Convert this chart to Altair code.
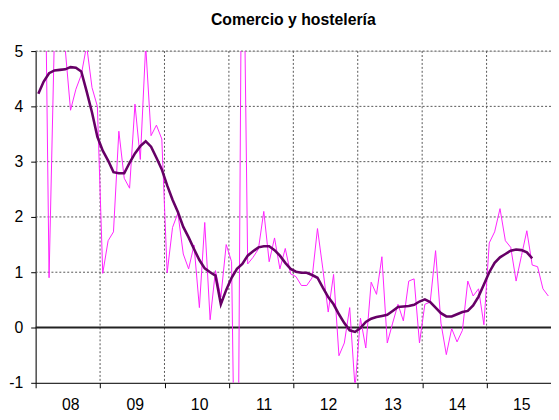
import json
import altair as alt
import pandas as pd

title_text = "Comercio y hostelería"
years = ["08", "09", "10", "11", "12", "13", "14", "15"]
y_ticks = [-1, 0, 1, 2, 3, 4, 5]

# monthly series Jan 2008 .. Dec 2015 (values beyond the axis range are clipped)
thin = [7.5, 9.0, 0.90, 5.3, 5.6, 5.05, 3.93, 4.31, 4.57, 5.1, 4.34, 4.00,
        0.98, 1.57, 1.73, 3.55, 2.70, 2.52, 4.04, 3.04, 5.1, 3.47, 3.66, 3.41,
        0.99, 1.81, 2.07, 1.33, 1.06, 1.49, 0.36, 1.90, 0.14, 1.03, 0.55, 1.50,
        1.19, -6.0, 9.0, 1.15, 1.27, 1.42, 2.10, 1.19, 1.62, 1.06, 1.43, 0.97,
        0.92, 0.76, 0.76, 0.90, 1.79, 1.06, 0.28, 0.96, -0.51, -0.28, 0.36, -1.1,
        0.17, -0.37, 0.82, 0.60, 1.28, -0.28, 0.08, 0.42, 0.12, 0.84, 0.88, -0.28,
        0.42, 0.46, 1.39, 0.08, -0.49, -0.02, -0.26, -0.05, 0.84, 0.57, 0.70, 0.05,
        1.53, 1.73, 2.15, 1.57, 1.45, 0.84, 1.30, 1.75, 1.13, 1.10, 0.70, 0.57]

# smoothed series Jan 2008 .. Sep 2015
thick = [4.23, 4.45, 4.60, 4.65, 4.66, 4.67, 4.71, 4.70, 4.63, 4.27, 3.89, 3.45,
         3.20, 3.02, 2.81, 2.79, 2.79, 2.98, 3.15, 3.28, 3.37, 3.27, 3.07, 2.86,
         2.57, 2.31, 2.09, 1.82, 1.63, 1.42, 1.22, 1.07, 1.00, 0.94, 0.42, 0.68,
         0.90, 1.06, 1.15, 1.30, 1.38, 1.45, 1.47, 1.47, 1.40, 1.30, 1.17, 1.06,
         1.01, 0.99, 0.99, 0.95, 0.90, 0.72, 0.55, 0.42, 0.24, 0.08, -0.05, -0.08,
         -0.01, 0.10, 0.16, 0.19, 0.21, 0.23, 0.30, 0.37, 0.38, 0.39, 0.41, 0.47,
         0.51, 0.46, 0.36, 0.26, 0.20, 0.20, 0.24, 0.28, 0.30, 0.40, 0.56, 0.78,
         1.00, 1.17, 1.27, 1.33, 1.39, 1.41, 1.40, 1.36, 1.25]

n_months = 12 * len(years)
df_thin = pd.DataFrame({"m": [i + 0.5 for i in range(len(thin))], "v": thin})
df_thick = pd.DataFrame({"m": [i + 0.5 for i in range(len(thick))], "v": thick})
bounds = [12 * k for k in range(len(years) + 1)]
df_vgrid = pd.DataFrame({"m": bounds[1:-1]})
df_hgrid = pd.DataFrame({"v": [t for t in y_ticks if t not in (0, -1)]})
df_zero = pd.DataFrame({"v": [0]})

W, H = 522, 336
year_px = W / len(years)

xscale = alt.Scale(domain=[0, n_months], nice=False, zero=False)
yscale = alt.Scale(domain=[min(y_ticks), max(y_ticks)], nice=False, zero=False)

label_expr = "datum.value < %d ? %s[floor(datum.value/12)] : ''" % (n_months, json.dumps(years))

x_axis = alt.Axis(values=bounds, labelExpr=label_expr, labelOffset=year_px / 2 + 2.5,
                  tickSize=5, labelPadding=9, grid=False, title=None,
                  labelFontSize=16, labelFont="Liberation Sans", labelColor="black",
                  domainColor="black", tickColor="black", labelAlign="center")
y_axis = alt.Axis(values=y_ticks, tickSize=5, labelPadding=8, grid=False, title=None,
                  labelFontSize=16, labelFont="Liberation Sans", labelColor="black",
                  domainColor="black", tickColor="black", labelExpr="'' + datum.value")

vgrid = alt.Chart(df_vgrid).mark_rule(color="#555555", strokeDash=[2, 2], strokeWidth=1).encode(
    x=alt.X("m:Q", scale=xscale, axis=x_axis))
hgrid = alt.Chart(df_hgrid).mark_rule(color="#555555", strokeDash=[2, 2], strokeWidth=1).encode(
    y=alt.Y("v:Q", scale=yscale, axis=y_axis))
zero = alt.Chart(df_zero).mark_rule(color="#222222", strokeWidth=2).encode(
    y=alt.Y("v:Q", scale=yscale))

thin_line = alt.Chart(df_thin).mark_line(color="#FF22FF", strokeWidth=1, clip=True).encode(
    x=alt.X("m:Q", scale=xscale), y=alt.Y("v:Q", scale=yscale))
thick_line = alt.Chart(df_thick).mark_line(color="#660066", strokeWidth=2.6, clip=True).encode(
    x=alt.X("m:Q", scale=xscale), y=alt.Y("v:Q", scale=yscale))

chart = alt.layer(vgrid, hgrid, zero, thin_line, thick_line).properties(
    width=W, height=H,
    title=alt.TitleParams(title_text, font="Liberation Sans", fontSize=16, fontWeight="bold",
                          color="black", anchor="middle", offset=15),
    padding={"left": 28, "top": 41, "right": 0, "bottom": 32},
    autosize=alt.AutoSizeParams(type="none"),
).configure_view(stroke=None).configure(background="white")

chart.save("out.html", embed_options={"renderer": "svg", "actions": False})
